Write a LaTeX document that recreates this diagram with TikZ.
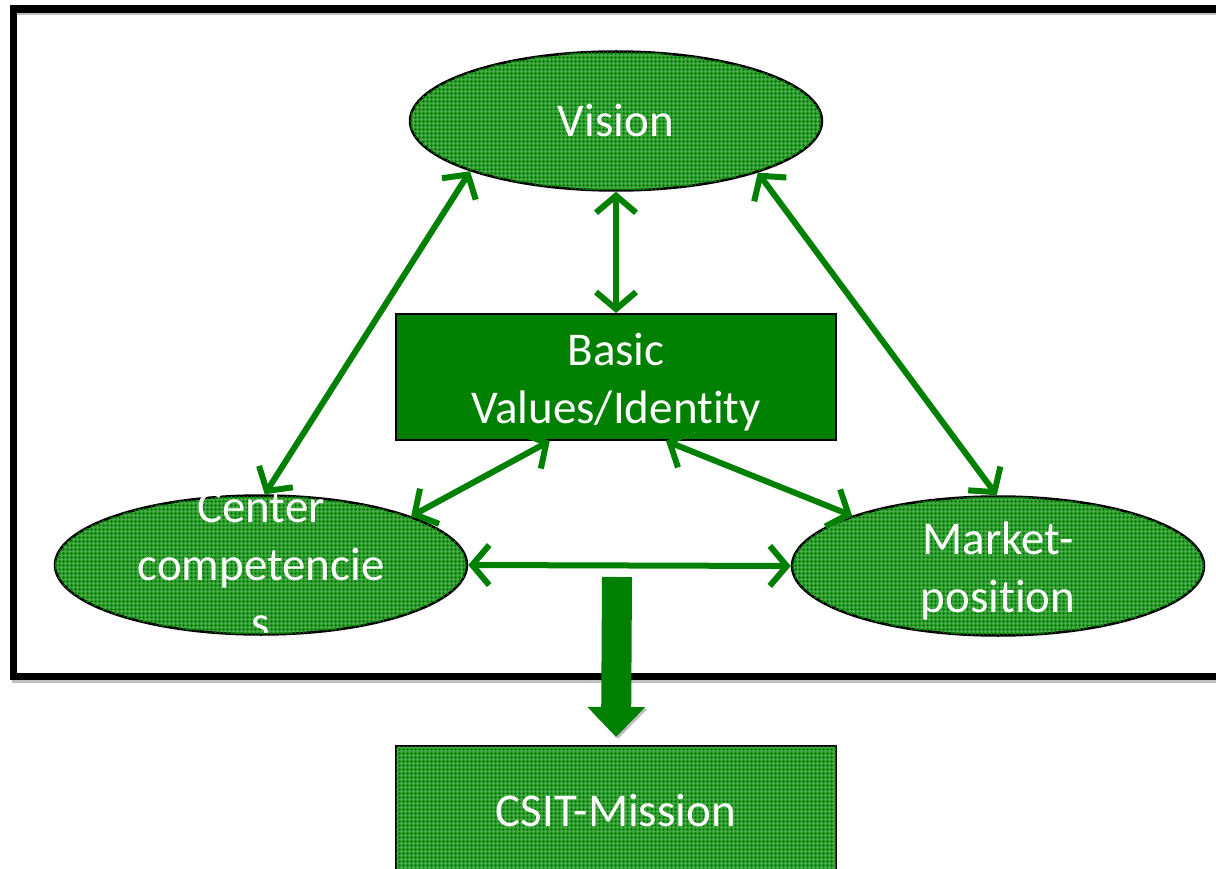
\documentclass[tikz,border=0pt]{standalone}
\usepackage{fontspec}
\setmainfont{Carlito}[Ligatures=NoCommon]
\usepackage{xcolor}
\usepackage{tikz}
\usetikzlibrary{shapes.geometric, arrows.meta, positioning, calc, patterns.meta}
\definecolor{leafgreen}{RGB}{0, 128, 0}
\definecolor{meshgreen}{RGB}{70, 170, 70}

\begin{document}
\begin{tikzpicture}[
    x=1pt, y=-1pt,
    every node/.style={font=\fontsize{47}{58}\selectfont, text=white, align=center},
    mesh/.style={fill=meshgreen, postaction={pattern={Hatch[distance=4pt, angle=0, line width=1.2pt]}, pattern color=leafgreen}},
    goal/.style={ellipse, draw=black, line width=2.5pt, mesh, minimum width=412pt, minimum height=139pt, inner sep=0pt},
    core/.style={rectangle, draw=black, line width=2pt, minimum width=440pt, minimum height=126pt},
    link/.style={draw=leafgreen, line width=6pt, {Straight Barb[length=17pt, width=40pt]}-{Straight Barb[length=17pt, width=40pt]},
        preaction={draw=black!25, transform canvas={xshift=2pt, yshift=-2pt}}},
    flow/.style={draw=leafgreen, line width=30pt, -{Triangle[length=30pt, width=56pt]}, shorten >=8pt,
        preaction={draw=black!25, transform canvas={xshift=2pt, yshift=-2pt}}}
]
\useasboundingbox (0,0) rectangle (1216,869);
% frame
\draw[black!25, line width=4pt] (13.5,13) rectangle (1230,681);
\draw[black, line width=7.5pt] (13.5,9) rectangle (1230,676.5);

\node[goal] (vision) at (616,121) {Vision};
\node[core, fill=leafgreen] (basic) at (616,377) {};
\node (basiclabel) at (616,382) {Basic\\Values/Identity};
\node[goal] (center) at (261,565) {};
\node[goal] (market) at (998,566) {};
\node (marketlabel) at (998,571) {Market-\\position};
\node[core, mesh, minimum height=160pt, anchor=north] (mission) at (616,745) {};
\node at (616,810) {CSIT-Mission};

% label cut off by the lower rim
\begin{scope}
    \clip (56,565) -- (56,460) -- (466,460) -- (466,565) arc[start angle=0, end angle=180, x radius=205, y radius=68] -- cycle;
    \node (centerlabel) at (261,565) {Center\\competencie\\s};
\end{scope}

\draw[link] (vision.199.6) -- (center.87);
\draw[link] (vision.south) -- (basic.north);
\draw[link] (vision.340.5) -- (market.91);
\draw[link] (basic.224.5) -- (center.18);
\draw[link] (basic.308) -- (market.161.7);
\draw[link] (center.east) -- (market.west);

\coordinate (outlet) at (617,577);
\draw[flow] (outlet) -- (mission.north);
\end{tikzpicture}
\end{document}
